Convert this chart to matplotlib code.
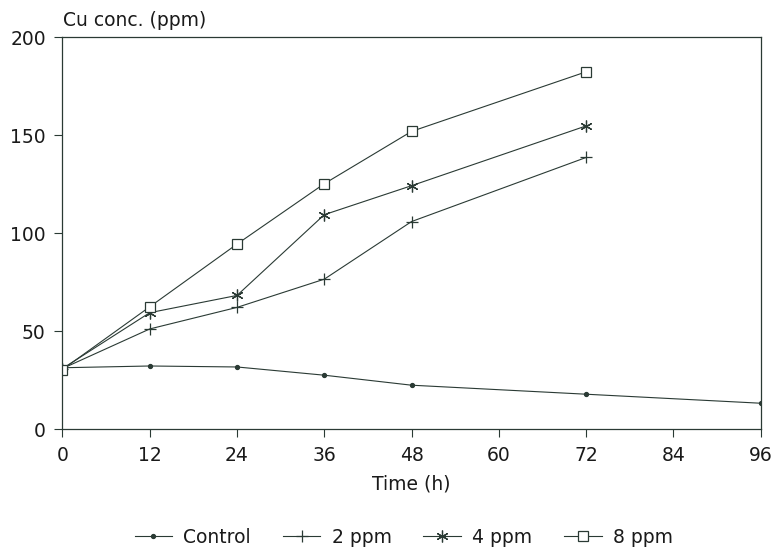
import matplotlib
matplotlib.use('Agg')
import matplotlib.pyplot as plt

TIME = [0, 12, 24, 36, 48, 72, 96]
TIME_TREATED = [0, 12, 24, 36, 48, 72]

CONTROL = [31.4, 32.3, 31.8, 27.6, 22.5, 17.9, 13.3]
PPM_2 = [31.0, 51.2, 62.2, 76.6, 106.0, 138.7]
PPM_4 = [31.0, 59.5, 68.3, 109.5, 124.3, 154.8]
PPM_8 = [30.5, 62.5, 94.5, 125.3, 152.0, 182.4]

X_TICKS = [0, 12, 24, 36, 48, 60, 72, 84, 96]
Y_TICKS = [0, 50, 100, 150, 200]

plt.rcParams['font.family'] = ['DejaVu Sans']
col = '#2a3a34'
txt = '#1a1a1a'

fig = plt.figure(figsize=(7.75, 5.53), dpi=100)
ax = fig.add_axes([0.0806, 0.2237, 0.9009, 0.7088])

kw = dict(color=col, lw=0.8)
ax.plot(TIME, CONTROL, marker='o', ms=2.8, label='Control', **kw)
ax.plot(TIME_TREATED, PPM_2, marker='+', ms=9, mew=0.9, label='2 ppm', **kw)
ax.plot(TIME_TREATED, PPM_4, marker=(6, 2, 0), ms=8.5, mew=0.9, label='4 ppm', **kw)
ax.plot(TIME_TREATED, PPM_8, marker='s', ms=7.5, mfc='white', mew=0.9, label='8 ppm', **kw)

ax.set_xlim(0, 96)
ax.set_ylim(0, 200)
ax.set_xticks(X_TICKS)
ax.set_yticks(Y_TICKS)
ax.tick_params(direction='out', length=6, width=0.8, color=col, labelsize=13.5,
               labelcolor=txt, pad=6)
for s in ax.spines.values():
    s.set_color(col)
    s.set_linewidth(0.9)

ax.set_xlabel('Time (h)', fontsize=13.5, color=txt, labelpad=7)
fig.text(0.081, 0.963, 'Cu conc. (ppm)', fontsize=13.5, color=txt, va='center')

leg = fig.legend(loc='center', bbox_to_anchor=(0.521, 0.028), ncol=4, frameon=False,
                 fontsize=13.5, handlelength=2.0, columnspacing=1.7, handletextpad=0.6)
for t in leg.get_texts():
    t.set_color(txt)

fig.savefig('out.png', dpi=100)
